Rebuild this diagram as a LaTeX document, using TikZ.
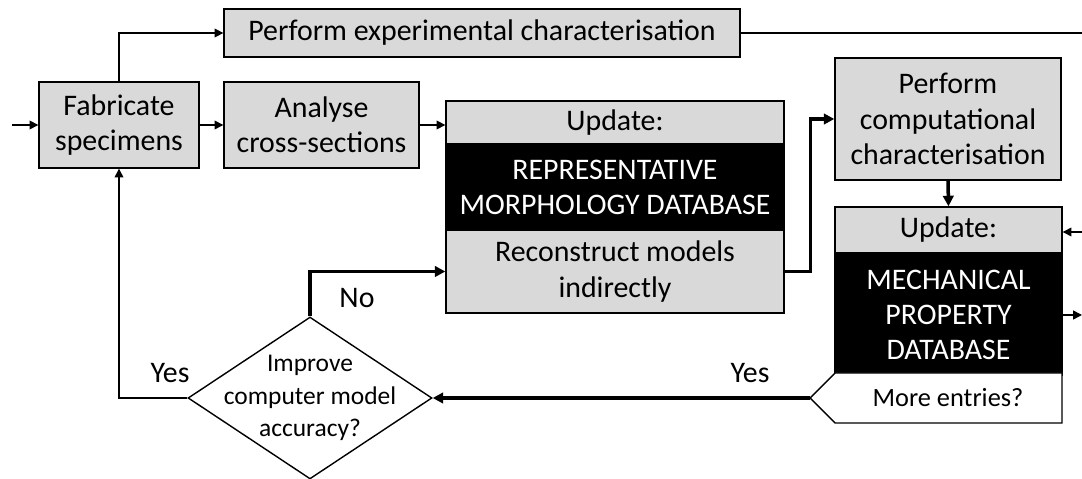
\documentclass[tikz,border=0pt]{standalone}
\usepackage{fontspec}
\setmainfont{Carlito}
\usetikzlibrary{arrows.meta,shapes.geometric}

\begin{document}
\begin{tikzpicture}[x=0.02cm,y=-0.02cm,
  box/.style={draw,line width=0.8pt,fill=gray!30,align=center,inner sep=0pt,
    font=\fontsize{17}{20}\selectfont},
  darkbox/.style={box,fill=black,text=white},
  arr/.style={line width=0.8pt,-{Triangle[length=5pt,width=5pt]}},
  thickarr/.style={line width=2pt,-{Triangle[length=6pt,width=6pt]}},
  lbl/.style={font=\fontsize{17}{20}\selectfont}]
  \useasboundingbox (0,0) rectangle (1082,479);

  % boxes
  \node[box,minimum width=3.2cm,minimum height=1.72cm] (fab) at (119,125) {Fabricate\\specimens};
  \node[box,minimum width=3.9cm,minimum height=1.72cm] (ana) at (321.5,125) {Analyse\\cross-sections};
  \node[box,minimum width=10.32cm,minimum height=0.96cm] (exp) at (482,33) {Perform experimental characterisation};
  \node[box,minimum width=6.76cm,minimum height=0.86cm] (upda) at (615,122.5) {Update:};
  \node[darkbox,minimum width=6.76cm,minimum height=1.72cm] (morph) at (615,187) {REPRESENTATIVE\\MORPHOLOGY DATABASE};
  \node[box,minimum width=6.76cm,minimum height=1.66cm] (rec) at (615,271.5) {Reconstruct models\\indirectly};
  \node[box,minimum width=4.52cm,minimum height=2.44cm] (comp) at (948,119) {Perform\\computational\\characterisation};
  \node[box,minimum width=4.54cm,minimum height=0.92cm] (updb) at (948.5,230) {Update:};
  \node[darkbox,minimum width=4.54cm,minimum height=2.4cm] (mech) at (948.5,315) {MECHANICAL\\PROPERTY\\DATABASE};

  % more entries
  \draw[line width=0.8pt,fill=white] (835,373) -- (1062,373) -- (1062,423) -- (835,423) -- (810,398) -- cycle;
  \coordinate (mp) at (810,398);
  \node[font=\fontsize{15}{18}\selectfont] (more) at (948,398) {More entries?};

  % decision
  \node[draw,diamond,line width=0.8pt,minimum width=4.88cm,minimum height=3.24cm,inner sep=0pt] (imp) at (310,398) {};
  \node[align=center,font=\fontsize{14.5}{18.5}\selectfont] (imptxt) at (imp.center) {Improve\\computer model\\accuracy?};

  % labels
  \node[lbl] (yesa) at (170,373) {Yes};
  \node[lbl] (no) at (357,298) {No};
  \node[lbl] (yesb) at (750,373) {Yes};

  % connectors
  \coordinate (in) at (12,125);
  \coordinate (expout) at (1082,33);
  \coordinate (fbin) at (1082,232);
  \coordinate (mechout) at (1082,315);
  \draw[arr] (in) -- (fab);
  \draw[arr] (fab.north) |- (exp.west);
  \draw[arr] (fab) -- (ana);
  \draw[arr] (ana.east) -- (ana.east -| upda.west);
  \draw[line width=0.8pt] (exp.east) -- (expout);
  \draw[thickarr] (rec.east) -- ++(26,0) |- (comp.west);
  \draw[thickarr] (comp.south) -- (updb.north);
  \draw[arr] (fbin) -- (fbin -| updb.east);
  \draw[arr] (mech.east) -- (mechout);
  \draw[thickarr] (mp) -- (imp.east);
  \draw[arr] (imp.west) -| (fab.south);
  \draw[thickarr] (imp.north) |- (rec.west);
\end{tikzpicture}
\end{document}
